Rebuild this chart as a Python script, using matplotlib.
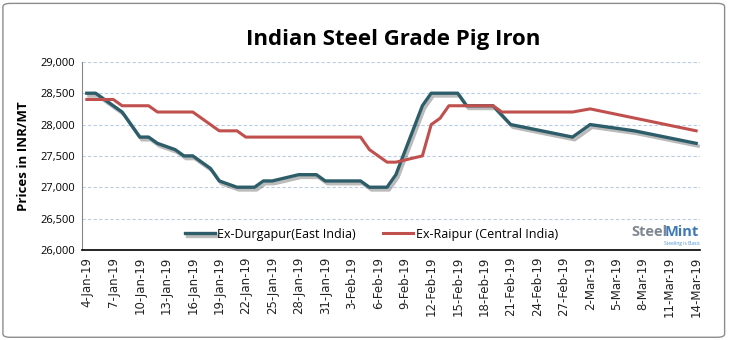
import pandas as pd
import matplotlib as mpl
mpl.use('Agg')
import matplotlib.pyplot as plt
import matplotlib.patheffects as pe
from matplotlib.patches import FancyBboxPatch

# values
durg_dates = ['2019-01-04', '2019-01-05', '2019-01-07', '2019-01-08', '2019-01-10',
              '2019-01-11', '2019-01-12', '2019-01-14', '2019-01-15', '2019-01-16',
              '2019-01-18', '2019-01-19', '2019-01-21', '2019-01-23', '2019-01-24',
              '2019-01-25', '2019-01-28', '2019-01-30', '2019-01-31', '2019-02-04',
              '2019-02-05', '2019-02-07', '2019-02-08', '2019-02-11', '2019-02-12',
              '2019-02-15', '2019-02-16', '2019-02-19', '2019-02-21', '2019-02-28',
              '2019-03-02', '2019-03-07', '2019-03-14']
durg_prices = [28500, 28500, 28300, 28200, 27800,
               27800, 27700, 27600, 27500, 27500,
               27300, 27100, 27000, 27000, 27100,
               27100, 27200, 27200, 27100, 27100,
               27000, 27000, 27200, 28300, 28500,
               28500, 28300, 28300, 28000, 27800,
               28000, 27900, 27700]

raip_dates = ['2019-01-04', '2019-01-07', '2019-01-08', '2019-01-11', '2019-01-12',
              '2019-01-16', '2019-01-17', '2019-01-19', '2019-01-21', '2019-01-22',
              '2019-02-04', '2019-02-05', '2019-02-07', '2019-02-08', '2019-02-11',
              '2019-02-12', '2019-02-13', '2019-02-14', '2019-02-19', '2019-02-20',
              '2019-02-28', '2019-03-02', '2019-03-14']
raip_prices = [28400, 28400, 28300, 28300, 28200,
               28200, 28100, 27900, 27900, 27800,
               27800, 27600, 27400, 27400, 27500,
               28000, 28100, 28300, 28300, 28200,
               28200, 28250, 27900]

series_names = ['Ex-Durgapur(East India)', 'Ex-Raipur (Central India)']
y_ticks = [26000, 26500, 27000, 27500, 28000, 28500, 29000]

durg_x = pd.to_datetime(durg_dates)
raip_x = pd.to_datetime(raip_dates)

fig = plt.figure(figsize=(7.29, 3.40), dpi=100)
ax = fig.add_axes([0.113, 0.265, 0.847, 0.553])

# rounded grey frame around the whole chart
fig.patches.append(FancyBboxPatch((0.004, 0.008), 0.99, 0.982, boxstyle='round,pad=0,rounding_size=0.01',
                                  transform=fig.transFigure, fill=False, ec='#8c8c8c', lw=1))

line_shadow = [pe.SimpleLineShadow(offset=(1.5, -2), shadow_color='#555555', alpha=0.4), pe.Normal()]
ax.plot(durg_x, durg_prices, color='#2d5d69', lw=2.4, label=series_names[0],
        path_effects=line_shadow)
ax.plot(raip_x, raip_prices, color='#c0504d', lw=2.2, label=series_names[1])

ax.set_ylim(26000, 29000)
ax.set_yticks(y_ticks)
ax.yaxis.set_major_formatter(mpl.ticker.FuncFormatter(lambda v, p: f'{int(v):,}'))
ax.set_xlim(pd.Timestamp('2019-01-03 12:00'), pd.Timestamp('2019-03-14 10:00'))
ticks = pd.date_range('2019-01-04', '2019-03-14', freq='3D')
ax.set_xticks(ticks)
ax.set_xticklabels([f'{d.day}-{d.strftime("%b")}-19' for d in ticks], rotation=90,
                   fontsize=8.5, family='DejaVu Sans', color='#222222')
for lab in ax.get_yticklabels():
    lab.set_fontsize(8)
    lab.set_family('Open Sans')

ax.grid(axis='y', color='#b9cde5', ls=(0, (3, 2)), lw=0.8)
ax.tick_params(length=0, pad=5)
for s in ['top', 'right']:
    ax.spines[s].set_visible(False)
ax.spines['left'].set_color('#868686')
ax.spines['bottom'].set_color('black')
ax.spines['bottom'].set_linewidth(1.2)

leg = ax.legend(loc='lower center', bbox_to_anchor=(0.468, -0.01), ncol=2, frameon=False,
                prop={'family': 'Open Sans', 'size': 9}, handlelength=2.4, columnspacing=2.2,
                handletextpad=0.2)

ax.set_ylabel('Prices in INR/MT', fontsize=9.5, fontweight='bold', family='Open Sans', labelpad=8)
fig.text(0.54, 0.885, 'Indian Steel Grade Pig Iron', ha='center', va='center',
         fontsize=16, fontweight='bold', family='Open Sans')

# SteelMint logo text
steel = fig.text(0.866, 0.318, 'Steel', ha='left', va='center', fontsize=10.5,
                 fontweight='bold', color='#7f8790', family='Open Sans')
ax.annotate('Mint', xy=(1, 0.5), xycoords=steel, xytext=(-1.8, 0), textcoords='offset points',
            ha='left', va='center', fontsize=10.5,
            fontweight='bold', color='#3b79b9', family='Open Sans')
fig.text(0.935, 0.284, 'Steeling is Basic', ha='center', va='center',
         fontsize=3.5, color='#4a90d0', family='Open Sans')

fig.savefig('out.png', dpi=100)
